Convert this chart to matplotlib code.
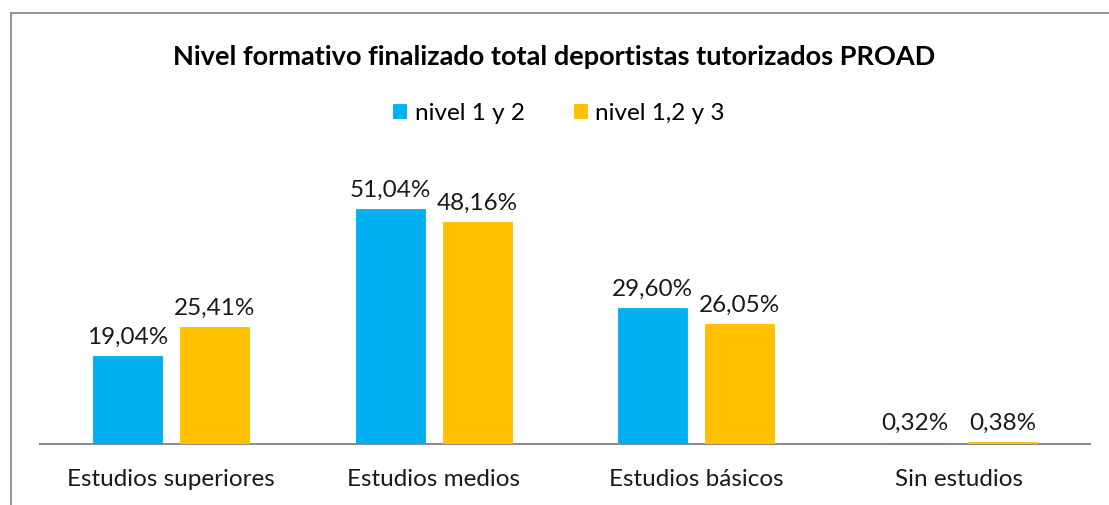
import matplotlib.pyplot as plt
import matplotlib.patches as mpatches
import numpy as np

categories = ['Estudios superiores', 'Estudios medios', 'Estudios básicos', 'Sin estudios']
nivel_12 = [19.04, 51.04, 29.60, 0.32]
nivel_123 = [25.41, 48.16, 26.05, 0.38]
series_names = ['nivel 1 y 2', 'nivel 1,2 y 3']

blue = '#00B0F0'
yellow = '#FFC000'

plt.rcParams['font.family'] = ['Lato', 'DejaVu Sans']

W, H = 1109, 505
fig = plt.figure(figsize=(W / 100, H / 100), dpi=100)

# outer chart border (cropped on right and bottom)
fig.patches.append(mpatches.Rectangle((11 / W, -0.1), 1.2, 1.1 - 13 / H,
                                      transform=fig.transFigure, fill=False,
                                      edgecolor='#8c8c8c', linewidth=1.3))

ax_left, ax_right = 40, 1090
ax_bottom, ax_top = 444, 150
ax = fig.add_axes([ax_left / W, 1 - ax_bottom / H, (ax_right - ax_left) / W, (ax_bottom - ax_top) / H])

x = np.arange(len(categories))
bw = 0.263
gap = 0.069
b1 = ax.bar(x - (bw + gap) / 2, nivel_12, bw, color=blue, edgecolor=blue, linewidth=0.6,
            label=series_names[0], zorder=3)
b2 = ax.bar(x + (bw + gap) / 2, nivel_123, bw, color=yellow, edgecolor=yellow, linewidth=0.6,
            label=series_names[1], zorder=3)

for bars, vals in [(b1, nivel_12), (b2, nivel_123)]:
    for r, v in zip(bars, vals):
        ax.annotate('{:.2f}%'.format(v).replace('.', ','),
                    (r.get_x() + r.get_width() / 2, r.get_height()),
                    xytext=(0, 6), textcoords='offset points',
                    ha='center', va='bottom', fontsize=17.5, color='#1a1a1a')

ax.set_xlim(-0.5, len(categories) - 0.5)
ax.set_ylim(0, (ax_bottom - ax_top) / 4.604)
for s in ['top', 'right', 'left']:
    ax.spines[s].set_visible(False)
ax.spines['bottom'].set_color('#8c8c8c')
ax.spines['bottom'].set_linewidth(1.5)
ax.spines['bottom'].set_zorder(2)
ax.set_yticks([])
ax.set_xticks(x)
ax.set_xticklabels(categories, fontsize=17.5, color='#1a1a1a')
ax.tick_params(axis='x', length=0, pad=18)

fig.text(0.5, 1 - 57 / H, 'Nivel formativo finalizado total deportistas tutorizados PROAD',
         ha='center', va='center', fontsize=19.5, fontweight='bold', color='#000000')

fig.legend(handles=[b1, b2], loc='center', bbox_to_anchor=(559 / W, 1 - 113 / H),
           ncol=2, frameon=False, fontsize=17.5, handlelength=0.55, handleheight=0.55,
           handletextpad=0.35, columnspacing=2.0)

plt.savefig('out.png', dpi=100)
